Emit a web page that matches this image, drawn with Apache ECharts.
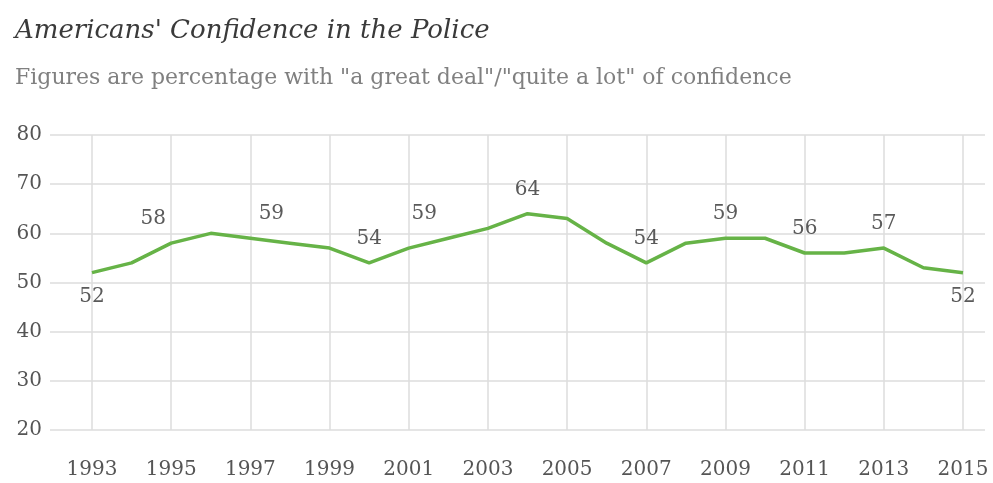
<!DOCTYPE html>
<html><head><meta charset="utf-8">
<script src="https://cdn.jsdelivr.net/npm/echarts@6/dist/echarts.min.js"></script>
<style>html,body{margin:0;padding:0;background:#fff}#c{width:993px;height:483px}</style>
</head><body><div id="c"></div>
<script>
const years = [1993,1994,1995,1996,1997,1998,1999,2000,2001,2002,2003,2004,2005,2006,2007,2008,2009,2010,2011,2012,2013,2014,2015];
const values = [52,54,58,60,59,58,57,54,57,59,61,64,63,58,54,58,59,59,56,56,57,53,52];
const labeledYears = [1993,1995,1997,2000,2002,2004,2007,2009,2011,2013,2015];
const yTicks = [20,30,40,50,60,70,80];
const titleText = "Americans' Confidence in the Police";
const subtitleText = 'Figures are percentage with "a great deal"/"quite a lot" of confidence';

const serif = '"DejaVu Serif", "Liberation Serif", serif';
// horizontal shift of a few labels (px, negative = left)
const labelShift = {1995:-18, 1997:21, 2002:-24};
const labelBelow = [1993, 2015];
const seriesData = years.map((y,i)=>{
  const item = {value:[y, values[i]]};
  if (labeledYears.includes(y)) {
    const dx = labelShift[y] || 0;
    item.label = {
      show:true,
      position: labelBelow.includes(y) ? 'bottom' : 'top',
      padding: dx < 0 ? [0, -2*dx, 0, 0] : [0, 0, 0, 2*dx]
    };
  }
  return item;
});

const chart = echarts.init(document.getElementById('c'), null, {renderer:'canvas'});
chart.setOption({
  animation:false,
  backgroundColor:'#fff',
  title:[
    {text:titleText, left:10, top:13, textStyle:{fontFamily:serif, fontStyle:'italic', fontWeight:'normal', fontSize:26, color:'#3a3a3a'}},
    {text:subtitleText, left:10, top:62, textStyle:{fontFamily:serif, fontWeight:'normal', fontSize:22, color:'#808080'}}
  ],
  grid:[
    {left:50, right:8, top:135, bottom:53},
    {left:92, right:30, top:135, bottom:53}
  ],
  xAxis:[
    {gridIndex:0, type:'value', min:0, max:1, show:false},
    {gridIndex:1, type:'value', min:1993, max:2015, interval:2,
     axisLine:{show:false}, axisTick:{show:false},
     splitLine:{show:true, lineStyle:{color:'#ddd', width:1.5}},
     axisLabel:{margin:30, fontFamily:serif, fontSize:20, color:'#555', formatter:v=>String(v)}}
  ],
  yAxis:[
    {gridIndex:0, type:'value', min:yTicks[0], max:yTicks[yTicks.length-1], interval:10,
     axisLine:{show:false}, axisTick:{show:false},
     splitLine:{show:true, lineStyle:{color:'#ddd', width:1.5}},
     axisLabel:{margin:8, fontFamily:serif, fontSize:20, color:'#555'}},
    {gridIndex:1, type:'value', min:yTicks[0], max:yTicks[yTicks.length-1], interval:10, show:false, splitLine:{show:false}}
  ],
  series:[{
    type:'line', xAxisIndex:1, yAxisIndex:1, data:seriesData,
    symbol:'circle', symbolSize:2, showSymbol:true,
    lineStyle:{color:'#66b347', width:3.5},
    itemStyle:{color:'rgba(0,0,0,0)', borderWidth:0},
    label:{show:false, distance:13, fontFamily:serif, fontSize:20, color:'#5a5a5a', formatter:p=>String(p.value[1])},
    labelLayout:{hideOverlap:false}
  }]
});
</script></body></html>
